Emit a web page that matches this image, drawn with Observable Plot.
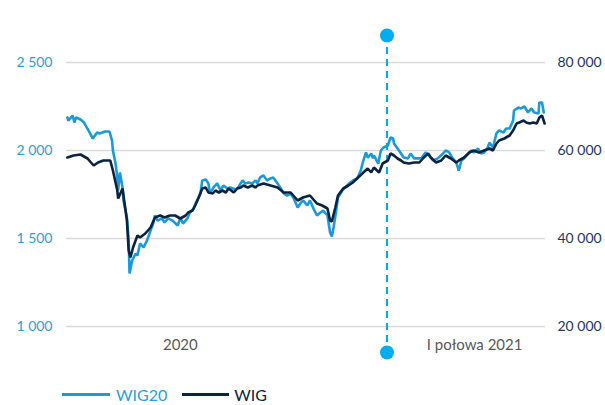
<!DOCTYPE html>
<html>
<head>
<meta charset="utf-8">
<script src="https://cdn.jsdelivr.net/npm/d3@7"></script>
<script src="https://cdn.jsdelivr.net/npm/@observablehq/plot@0.6"></script>
<style>
  body { margin: 0; background: #fff; font-family: Lato, sans-serif; }
  #wrap { position: relative; width: 605px; height: 405px; }
  #legend { position: absolute; left: 62px; top: 385px; display: flex; align-items: center; font: 16px Lato, sans-serif; }
  .sw { display: inline-block; height: 3px; }
</style>
</head>
<body>
<div id="wrap">
  <div id="chart"></div>
  <div id="legend">
    <span class="sw" style="width:48px;background:#1c9ad8;margin-right:6px"></span><span style="color:#2aa0e0">WIG20</span>
    <span class="sw" style="width:47px;background:#0b2341;margin-left:15px;margin-right:5px"></span><span style="color:#0b2341">WIG</span>
  </div>
</div>
<script>
// ---- Data ----
const wig20Dates = ["2020-01-02","2020-01-03","2020-01-08","2020-01-10","2020-01-12","2020-01-17","2020-01-21","2020-01-28","2020-01-31","2020-02-05","2020-02-08","2020-02-14","2020-02-19","2020-02-22","2020-02-23","2020-02-26","2020-02-28","2020-02-29","2020-03-02","2020-03-05","2020-03-06","2020-03-10","2020-03-12","2020-03-13","2020-03-16","2020-03-20","2020-03-22","2020-03-25","2020-03-29","2020-04-02","2020-04-06","2020-04-09","2020-04-11","2020-04-14","2020-04-19","2020-04-22","2020-04-26","2020-05-01","2020-05-07","2020-05-10","2020-05-13","2020-05-18","2020-05-21","2020-05-25","2020-05-29","2020-06-02","2020-06-04","2020-06-08","2020-06-11","2020-06-13","2020-06-17","2020-06-21","2020-06-25","2020-06-28","2020-07-03","2020-07-06","2020-07-12","2020-07-15","2020-07-20","2020-07-23","2020-07-27","2020-07-31","2020-08-04","2020-08-06","2020-08-09","2020-08-13","2020-08-17","2020-08-21","2020-08-24","2020-08-29","2020-09-01","2020-09-05","2020-09-09","2020-09-13","2020-09-16","2020-09-21","2020-09-24","2020-09-27","2020-10-02","2020-10-05","2020-10-09","2020-10-13","2020-10-17","2020-10-20","2020-10-25","2020-10-28","2020-10-30","2020-11-01","2020-11-04","2020-11-06","2020-11-11","2020-11-14","2020-11-20","2020-11-23","2020-11-28","2020-12-02","2020-12-05","2020-12-08","2020-12-10","2020-12-14","2020-12-16","2020-12-17","2020-12-22","2020-12-25","2020-12-28","2021-01-02","2021-01-05","2021-01-08","2021-01-09","2021-01-13","2021-01-17","2021-01-20","2021-01-25","2021-01-28","2021-02-01","2021-02-05","2021-02-09","2021-02-14","2021-02-18","2021-02-23","2021-02-28","2021-03-06","2021-03-09","2021-03-13","2021-03-17","2021-03-21","2021-03-24","2021-03-27","2021-03-30","2021-04-04","2021-04-07","2021-04-10","2021-04-15","2021-04-18","2021-04-22","2021-04-26","2021-04-28","2021-05-02","2021-05-06","2021-05-09","2021-05-14","2021-05-17","2021-05-21","2021-05-25","2021-05-26","2021-05-31","2021-06-03","2021-06-07","2021-06-11","2021-06-15","2021-06-18","2021-06-23","2021-06-24","2021-06-27","2021-06-29"];
const wig20Values = [2188,2170,2199,2159,2188,2176,2159,2097,2068,2102,2097,2108,2108,2057,2000,1926,1847,1773,1875,1790,1716,1619,1489,1301,1375,1415,1403,1472,1449,1489,1545,1585,1631,1602,1614,1591,1614,1602,1574,1619,1585,1614,1648,1670,1716,1756,1830,1835,1813,1756,1790,1813,1773,1801,1784,1790,1778,1790,1830,1813,1818,1813,1830,1813,1847,1858,1830,1841,1847,1813,1790,1756,1744,1756,1733,1676,1699,1716,1688,1716,1670,1631,1648,1659,1631,1534,1511,1563,1659,1733,1773,1790,1818,1830,1841,1886,1943,1989,1960,1983,1955,1972,1926,2000,2017,2028,2074,2068,2040,2011,1983,1960,1955,1983,1955,1955,1955,1989,1972,1943,1955,1983,2000,1989,1955,1932,1886,1943,1955,1983,2000,1989,2011,1983,1989,2017,2045,2017,2097,2114,2102,2125,2125,2170,2227,2244,2239,2250,2216,2239,2216,2210,2273,2273,2216];

const wigDates = ["2020-01-02","2020-01-09","2020-01-17","2020-01-25","2020-02-01","2020-02-06","2020-02-12","2020-02-20","2020-02-23","2020-02-28","2020-02-29","2020-03-05","2020-03-08","2020-03-10","2020-03-12","2020-03-14","2020-03-17","2020-03-22","2020-03-25","2020-03-31","2020-04-06","2020-04-11","2020-04-17","2020-04-22","2020-04-28","2020-05-04","2020-05-10","2020-05-16","2020-05-19","2020-05-24","2020-05-27","2020-05-31","2020-06-04","2020-06-08","2020-06-11","2020-06-16","2020-06-19","2020-06-23","2020-06-27","2020-07-01","2020-07-04","2020-07-10","2020-07-14","2020-07-18","2020-07-21","2020-07-26","2020-07-31","2020-08-04","2020-08-06","2020-08-13","2020-08-21","2020-08-29","2020-09-05","2020-09-13","2020-09-21","2020-09-27","2020-10-05","2020-10-13","2020-10-19","2020-10-25","2020-10-28","2020-10-30","2020-11-03","2020-11-06","2020-11-12","2020-11-18","2020-11-23","2020-11-29","2020-12-05","2020-12-10","2020-12-14","2020-12-17","2020-12-23","2020-12-27","2021-01-02","2021-01-05","2021-01-09","2021-01-13","2021-01-17","2021-01-20","2021-01-26","2021-02-01","2021-02-07","2021-02-12","2021-02-17","2021-02-20","2021-02-26","2021-03-04","2021-03-09","2021-03-15","2021-03-21","2021-03-24","2021-03-30","2021-04-05","2021-04-10","2021-04-16","2021-04-22","2021-04-28","2021-05-02","2021-05-06","2021-05-09","2021-05-15","2021-05-21","2021-05-25","2021-05-29","2021-06-01","2021-06-06","2021-06-09","2021-06-13","2021-06-17","2021-06-21","2021-06-24","2021-06-27","2021-06-30"];
const wigValues = [58409,58864,59091,58182,56591,57273,57727,57727,55455,50909,49091,51364,47045,44091,37273,35682,37955,40682,40227,41136,42500,44773,45227,44773,45227,45227,44545,45227,45909,46364,47500,49318,51364,51591,50455,50227,50909,50455,50909,50455,51364,50455,51364,51591,52045,51591,52045,51591,52045,52500,52045,51591,50455,50455,48636,49318,49773,47955,47500,46818,44091,43864,47045,49773,51364,52045,52727,53864,55000,55909,55000,56136,55000,57045,57727,59318,58864,58182,57727,57273,57045,57273,57273,58409,59318,58409,57273,57727,58864,58182,57273,57727,58409,59545,60000,59545,60000,60455,60000,61591,62273,62727,63409,64545,66136,66364,66818,66364,66136,66364,66136,67500,67955,66136];

const leftTicks = [1000, 1500, 2000, 2500];          // WIG20 axis
const rightTicks = [20000, 40000, 60000, 80000];     // WIG axis
const periodLabels = ["2020", "I połowa 2021"];
const periodLabelDates = ["2020-05-10", "2021-04-11"];
const dividerDate = "2021-01-01";
const xDomain = ["2020-01-01", "2021-07-01"];

// ---- Helpers ----
const parse = d3.utcParse("%Y-%m-%d");
const fmt = d3.formatLocale({thousands: "\u00a0", grouping: [3], decimal: ","}).format(",");
// WIG axis maps linearly onto the WIG20 axis: 20 000 ↔ 1 000, 80 000 ↔ 2 500
const wigToLeft = v => (v + 20000) / 40;

const wig20 = wig20Dates.map((d, i) => ({date: parse(d), value: wig20Values[i]}));
const wig = wigDates.map((d, i) => ({date: parse(d), value: wigValues[i]}));
const labels = periodLabels.map((t, i) => ({text: t, date: parse(periodLabelDates[i])}));
const divider = [parse(dividerDate)];

const BLUE = "#1c9ad8", NAVY = "#0b2341", CYAN = "#00aeef";

const chart = Plot.plot({
  width: 605,
  height: 375,
  marginTop: 62,
  marginBottom: 49,
  marginLeft: 66,
  marginRight: 60,
  style: {fontFamily: "Lato, sans-serif", background: "#fff", overflow: "visible"},
  x: {type: "utc", domain: xDomain.map(parse), axis: null},
  y: {domain: [1000, 2500], axis: null},
  marks: [
    Plot.ruleY(leftTicks, {stroke: "#d9d9d9", strokeWidth: 1.6}),
    Plot.axisY(leftTicks, {anchor: "left", label: null, tickSize: 0, tickPadding: 14, tickFormat: fmt, fill: "#2aa0e0", fontSize: 14}),
    Plot.axisY(rightTicks.map(wigToLeft), {anchor: "right", label: null, tickSize: 0, tickPadding: 12, tickFormat: v => fmt(v * 40 - 20000), fill: "#1f3461", fontSize: 14}),
    Plot.ruleX(divider, {stroke: CYAN, strokeWidth: 2, strokeDasharray: "7,5", insetTop: -27, insetBottom: -26}),
    Plot.line(wig20, {x: "date", y: "value", stroke: BLUE, strokeWidth: 2.6, strokeLinejoin: "miter"}),
    Plot.line(wig, {x: "date", y: d => wigToLeft(d.value), stroke: NAVY, strokeWidth: 2.6, strokeLinejoin: "miter"}),
    Plot.dot(divider, {x: d => d, frameAnchor: "top", dy: -27, r: 7, fill: CYAN}),
    Plot.dot(divider, {x: d => d, frameAnchor: "bottom", dy: 26, r: 7, fill: CYAN}),
    Plot.text(labels, {x: "date", text: "text", frameAnchor: "bottom", dy: 23, fill: "#595959", fontSize: 15})
  ]
});
document.getElementById("chart").appendChild(chart);
</script>
</body>
</html>
